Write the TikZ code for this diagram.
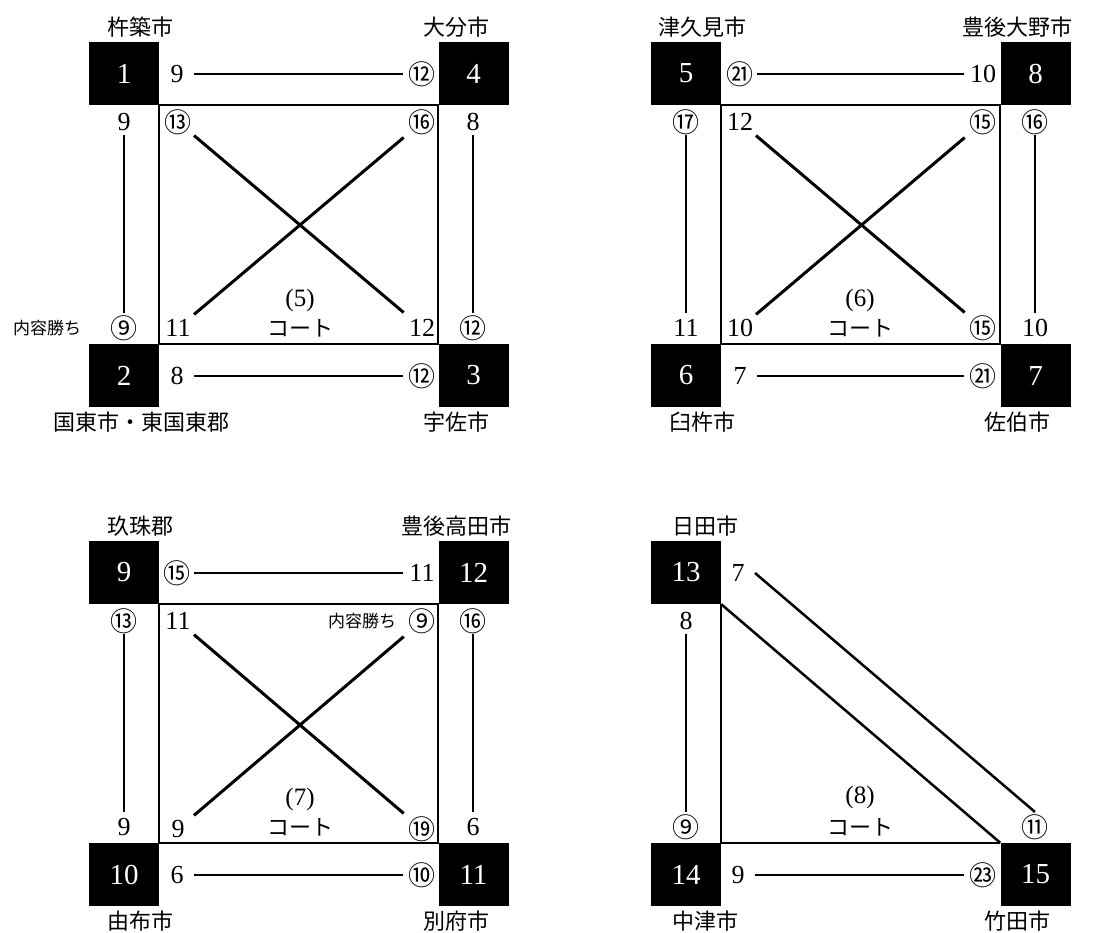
\documentclass[tikz,border=0pt]{standalone}
\usepackage{fontspec}
\newfontfamily\jp{Noto Sans CJK JP}
\newfontfamily\dig{Liberation Serif}
\usetikzlibrary{calc}
\begin{document}
\begin{tikzpicture}[x=1pt,y=-1pt,
  team/.style={fill=black,minimum width=70pt,minimum height=63pt,inner sep=0pt,text=white,font=\dig\fontsize{29}{29}\selectfont},
  num/.style={font=\dig\fontsize{26}{26}\selectfont,inner sep=0pt},
  cnum/.style={font=\jp\fontsize{27}{27}\selectfont,inner sep=0pt},
  city/.style={font=\jp\fontsize{22}{22}\selectfont,inner sep=0pt},
  small/.style={font=\jp\fontsize{17}{17}\selectfont,inner sep=0pt},
  courtlbl/.style={font=\dig\fontsize{25}{25}\selectfont,inner sep=0pt},
  courtjp/.style={font=\jp\fontsize{22}{22}\selectfont,inner sep=0pt},
  court/.style={line width=2pt},
  hconn/.style={line width=2pt,shorten <=17pt,shorten >=19pt},
  vconn/.style={line width=2pt,shorten <=13pt,shorten >=15pt},
  dconn/.style={line width=3pt,shorten <=21pt,shorten >=24pt}]
\useasboundingbox (0,0) rectangle (1115,932);

% ---------- Panel 1 ----------
\node[team] (A1) at (124,73.5) {1};
\node[team] (A4) at (473.5,73.5) {4};
\node[team] (A2) at (124,375.5) {2};
\node[team] (A3) at (473.5,375.5) {3};
\draw[court] (A1.south east) rectangle (A3.north west);
\node[city] (cA1) at (140,27) {杵築市};
\node[city] (cA4) at (456,27) {大分市};
\node[city] (cA2) at (141,422) {国東市・東国東郡};
\node[city] (cA3) at (456,422) {宇佐市};
\node[num]  (tA1) at (177,74) {9};
\node[cnum] (tA4) at (422,74) {⑫};
\draw[hconn] (tA1.center) -- (tA4.center);
\node[num]  (bA2) at (177,376) {8};
\node[cnum] (bA3) at (422,376) {⑫};
\draw[hconn] (bA2.center) -- (bA3.center);
\node[num]  (lA1) at (124,122) {9};
\node[cnum] (lA2) at (124,328) {⑨};
\node[small] (wA) at (47,328) {内容勝ち};
\draw[vconn] (lA1.center) -- (lA2.center);
\node[num]  (rA4) at (473,122) {8};
\node[cnum] (rA3) at (473,328) {⑫};
\draw[vconn] (rA4.center) -- (rA3.center);
\node[cnum] (iA1) at (178,122) {⑬};
\node[cnum] (iA4) at (422,122) {⑯};
\node[num]  (iA2) at (178,328) {11};
\node[num]  (iA3) at (422,328) {12};
\draw[dconn] (iA1.center) -- (iA3.center);
\draw[dconn] (iA2.center) -- (iA4.center);
\node[courtlbl] (kA) at (300,300) {(5)};
\node[courtjp] (kAj) at (300,328) {コート};

% ---------- Panel 2 ----------
\begin{scope}[shift={(562,0)}]
\node[team] (B5) at (124,73.5) {5};
\node[team] (B8) at (473.5,73.5) {8};
\node[team] (B6) at (124,375.5) {6};
\node[team] (B7) at (473.5,375.5) {7};
\draw[court] (B5.south east) rectangle (B7.north west);
\node[city] (cB5) at (140,27) {津久見市};
\node[city] (cB8) at (455,27) {豊後大野市};
\node[city] (cB6) at (140,422) {臼杵市};
\node[city] (cB7) at (455,422) {佐伯市};
\node[cnum] (tB5) at (178,74) {㉑};
\node[num]  (tB8) at (421,74) {10};
\draw[hconn] (tB5.center) -- (tB8.center);
\node[num]  (bB6) at (178,376) {7};
\node[cnum] (bB7) at (421,376) {㉑};
\draw[hconn] (bB6.center) -- (bB7.center);
\node[cnum] (lB5) at (124,122) {⑰};
\node[num]  (lB6) at (124,328) {11};
\draw[vconn] (lB5.center) -- (lB6.center);
\node[cnum] (rB8) at (473,122) {⑯};
\node[num]  (rB7) at (473,328) {10};
\draw[vconn] (rB8.center) -- (rB7.center);
\node[num]  (iB5) at (178,122) {12};
\node[cnum] (iB8) at (421,122) {⑮};
\node[num]  (iB6) at (178,328) {10};
\node[cnum] (iB7) at (421,328) {⑮};
\draw[dconn] (iB5.center) -- (iB7.center);
\draw[dconn] (iB6.center) -- (iB8.center);
\node[courtlbl] (kB) at (298,300) {(6)};
\node[courtjp] (kBj) at (298,328) {コート};
\end{scope}

% ---------- Panel 3 ----------
\begin{scope}[shift={(0,499)}]
\node[team] (C9) at (124,73.5) {9};
\node[team] (C12) at (473.5,73.5) {12};
\node[team] (C10) at (124,375.5) {10};
\node[team] (C11) at (473.5,375.5) {11};
\draw[court] (C9.south east) rectangle (C11.north west);
\node[city] (cC9) at (140,27) {玖珠郡};
\node[city] (cC12) at (456,27) {豊後高田市};
\node[city] (cC10) at (140,422) {由布市};
\node[city] (cC11) at (456,422) {別府市};
\node[cnum] (tC9) at (177,74) {⑮};
\node[num]  (tC12) at (422,74) {11};
\draw[hconn] (tC9.center) -- (tC12.center);
\node[num]  (bC10) at (177,376) {6};
\node[cnum] (bC11) at (422,376) {⑩};
\draw[hconn] (bC10.center) -- (bC11.center);
\node[cnum] (lC9) at (124,122) {⑬};
\node[num]  (lC10) at (124,328) {9};
\draw[vconn] (lC9.center) -- (lC10.center);
\node[cnum] (rC12) at (473,122) {⑯};
\node[num]  (rC11) at (473,328) {6};
\draw[vconn] (rC12.center) -- (rC11.center);
\node[num]  (iC9) at (178,122) {11};
\node[cnum] (iC12) at (422,122) {⑨};
\node[small] (wC) at (362,122) {内容勝ち};
\node[num]  (iC10) at (178,330) {9};
\node[cnum] (iC11) at (422,330) {⑲};
\draw[dconn] (iC9.center) -- (iC11.center);
\draw[dconn] (iC10.center) -- (iC12.center);
\node[courtlbl] (kC) at (300,300) {(7)};
\node[courtjp] (kCj) at (300,328) {コート};
\end{scope}

% ---------- Panel 4 ----------
\begin{scope}[shift={(562,499)}]
\node[team] (D13) at (124,73.5) {13};
\node[team] (D14) at (124,375.5) {14};
\node[team] (D15) at (473.5,375.5) {15};
\draw[court] (D13.south east) -- (D14.north east) -- (D15.north west);
\draw[line width=2.5pt] (D13.south east) -- (D15.north west);
\node[city] (cD13) at (143,27) {日田市};
\node[city] (cD14) at (143,422) {中津市};
\node[city] (cD15) at (455,422) {竹田市};
\node[num]  (tD13) at (176,74) {7};
\node[cnum] (tD15) at (473,328) {⑪};
\draw[line width=2.5pt] ($(tD13.center)+(17,0)$) -- ($(tD15.center)+(0,-15)$);
\node[num]  (bD14) at (176,376) {9};
\node[cnum] (bD15) at (421,376) {㉓};
\draw[hconn] (bD14.center) -- (bD15.center);
\node[num]  (lD13) at (124,122) {8};
\node[cnum] (lD14) at (124,328) {⑨};
\draw[vconn] (lD13.center) -- (lD14.center);
\node[courtlbl] (kD) at (298,298) {(8)};
\node[courtjp] (kDj) at (298,328) {コート};
\end{scope}
\end{tikzpicture}
\end{document}
